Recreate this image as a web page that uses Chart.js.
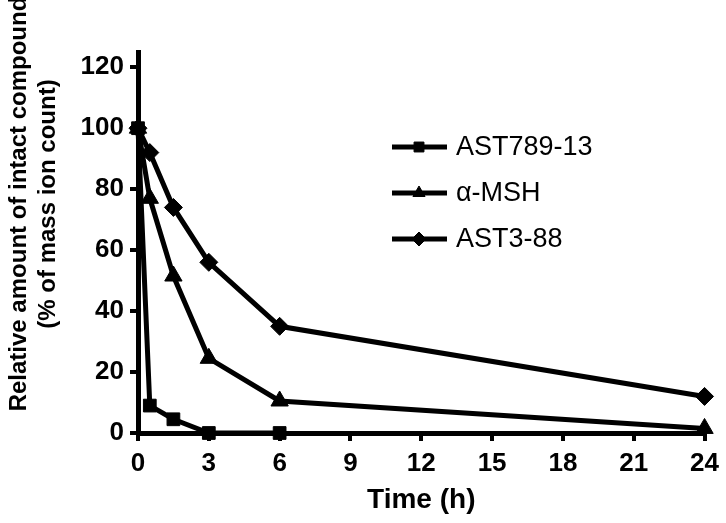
<!DOCTYPE html>
<html>
<head>
<title>Intact compound</title>
<script src="https://cdn.jsdelivr.net/npm/chart.js"></script>
<style>
  body { margin: 0; background: #fff; }
  #wrap { width: 726px; height: 523px; }
</style>
</head>
<body>
<div id="wrap"><canvas id="chart"></canvas></div>
<script>
const hours = [0, 0.5, 1.5, 3, 6, 24];
const ast789 = [100, 9, 4.5, 0, 0];
const msh = [100, 77, 51.5, 24.5, 10.5, 1.5];
const ast388 = [100, 92, 74, 56, 35, 12];
const names = ['AST789-13', 'α-MSH', 'AST3-88'];
const xTicks = [0, 3, 6, 9, 12, 15, 18, 21, 24];
const yTicks = [0, 20, 40, 60, 80, 100, 120];
const xTitle = 'Time (h)';
const yTitle = ['Relative amount of intact compound', '(% of mass ion count)'];

function points(ys) {
    return ys.map((y, i) => ({ x: hours[i], y: y }));
}

const FONT = '"Liberation Sans", Arial, sans-serif';

// y title drawn by hand so it can sit where the original has it
const yTitlePlugin = {
    id: 'yTitle',
    afterDraw(chart) {
        const ctx = chart.ctx;
        ctx.save();
        ctx.fillStyle = '#000';
        ctx.font = 'bold 24px ' + FONT;
        ctx.textAlign = 'center';
        ctx.textBaseline = 'middle';
        ctx.translate(19, 204);
        ctx.rotate(-Math.PI / 2);
        ctx.fillText(yTitle[0], 0, 0);
        ctx.fillText(yTitle[1], 0, 29);
        ctx.restore();
    }
};

// legend: line with the marker in the middle, like Prism does
const legendPlugin = {
    id: 'lineLegend',
    afterDraw(chart) {
        const ctx = chart.ctx;
        chart.data.datasets.forEach((ds, i) => {
            const y = 147 + i * 46;
            ctx.save();
            ctx.strokeStyle = '#000';
            ctx.fillStyle = '#000';
            ctx.lineWidth = 5;
            ctx.beginPath();
            ctx.moveTo(392, y);
            ctx.lineTo(447, y);
            ctx.stroke();
            ctx.lineWidth = 1;
            Chart.helpers.drawPoint(ctx, { pointStyle: ds.pointStyle, radius: 7, borderWidth: 1, rotation: 0 }, 419, y);
            ctx.font = '27px ' + FONT;
            ctx.textBaseline = 'middle';
            ctx.fillText(ds.label, 456, y + 1);
            ctx.restore();
        });
    }
};

function series(label, ys, style, r) {
    return {
        label: label,
        data: points(ys),
        borderColor: '#000',
        backgroundColor: '#000',
        borderWidth: 5,
        pointStyle: style,
        pointRadius: r,
        pointHoverRadius: r,
        pointBorderWidth: 1,
        showLine: true,
        clip: false
    };
}

new Chart(document.getElementById('chart'), {
    type: 'scatter',
    data: {
        datasets: [
            series(names[0], ast789, 'rect', 9),
            series(names[1], msh, 'triangle', 10),
            series(names[2], ast388, 'rectRot', 9)
        ]
    },
    options: {
        responsive: true,
        maintainAspectRatio: false,
        animation: false,
        devicePixelRatio: 1,
        layout: { padding: { top: 52, right: 15, left: 0, bottom: 0 } },
        plugins: {
            legend: { display: false },
            tooltip: { enabled: false }
        },
        scales: {
            x: {
                type: 'linear',
                min: 0,
                max: 24,
                afterBuildTicks: axis => { axis.ticks = xTicks.map(v => ({ value: v })); },
                afterFit: axis => { axis.height = 90; },
                grid: { drawOnChartArea: false, drawTicks: true, tickLength: 8, lineWidth: 4, color: '#000' },
                border: { width: 5, color: '#000' },
                ticks: { color: '#000', padding: 7, font: { family: FONT, size: 26, weight: 'bold' } },
                title: { display: true, text: xTitle, color: '#000', padding: { top: 8, bottom: 6 }, font: { family: FONT, size: 28, weight: 'bold' } }
            },
            y: {
                type: 'linear',
                min: 0,
                max: 125,
                afterBuildTicks: axis => { axis.ticks = yTicks.map(v => ({ value: v })); },
                afterFit: axis => { axis.width = 138; },
                grid: { drawOnChartArea: false, drawTicks: true, tickLength: 8, lineWidth: 4, color: '#000' },
                border: { width: 5, color: '#000' },
                ticks: { color: '#000', padding: 6, font: { family: FONT, size: 26, weight: 'bold' } }
            }
        }
    },
    plugins: [yTitlePlugin, legendPlugin]
});
</script>
</body>
</html>
